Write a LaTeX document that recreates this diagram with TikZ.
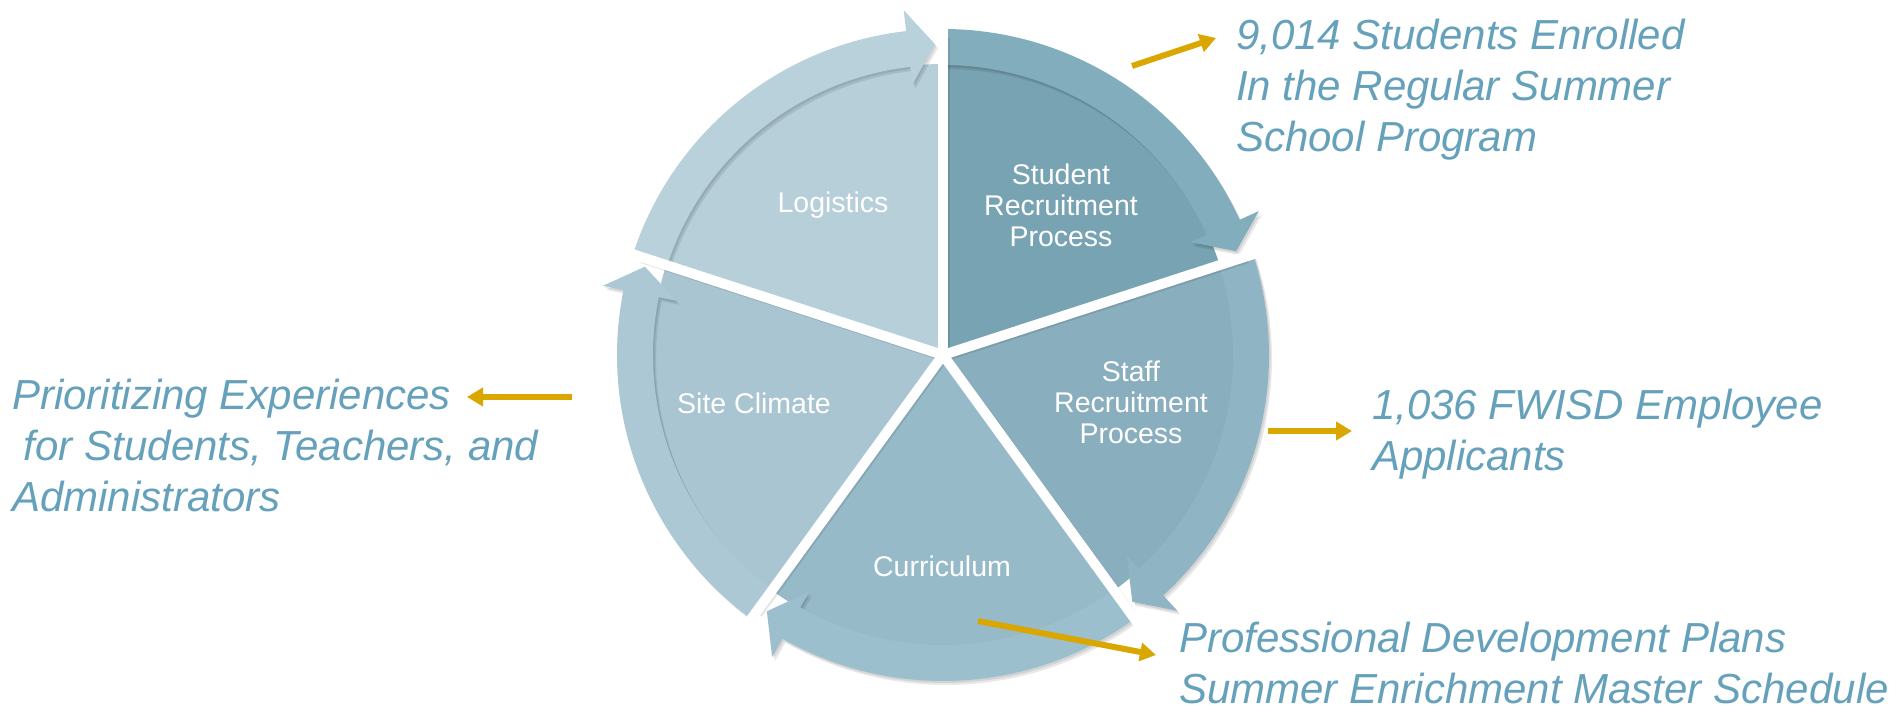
\documentclass[tikz,border=0pt]{standalone}
\usepackage{fontspec}
\setmainfont{Liberation Sans}
\usetikzlibrary{arrows.meta}
\definecolor{txtblue}{RGB}{101,161,186}
\definecolor{gold}{RGB}{218,166,0}
\definecolor{logI}{RGB}{182,207,217}
\definecolor{logB}{RGB}{184,209,219}
\definecolor{stuI}{RGB}{120,163,178}
\definecolor{stuB}{RGB}{129,173,189}
\definecolor{staI}{RGB}{137,174,189}
\definecolor{staB}{RGB}{143,181,196}
\definecolor{curI}{RGB}{151,186,201}
\definecolor{curB}{RGB}{156,191,206}
\definecolor{sitI}{RGB}{168,197,209}
\definecolor{sitB}{RGB}{171,200,212}
\tikzset{
  bigtext/.style={text=txtblue, font=\fontsize{42}{51}\selectfont\itshape, inner sep=0pt, anchor=base west},
  segtext/.style={text=white, font=\fontsize{28.5}{31}\selectfont, inner sep=0pt, anchor=base},
  goldarrow/.style={draw=gold, line width=6pt, -{Triangle[length=16pt,width=18pt]}},
  gapline/.style={draw=white, line width=10pt},
  gapshadow/.style={draw=black, opacity=0.10, line width=10pt},
  bandshadow/.style={fill=black, opacity=0.09},
}
% band (with arrow head) of the segment whose lower border lies at angle #1
\newcommand{\bandpath}[1]{%
  ({#1+72}:326pt) arc[start angle={#1+72}, end angle={#1+6.5}, radius=326pt]
    -- ({#1+6.5}:347pt) -- ({#1+1.5}:311pt) -- ({#1+6.5}:272pt) -- ({#1+6.5}:290pt)
    arc[start angle={#1+6.5}, end angle={#1+72}, radius=290pt] -- cycle}
\newcommand{\segsector}[2]{%
  \fill[#2] (0,0) -- (#1:291pt) arc[start angle=#1, delta angle=72, radius=291pt] -- cycle;}
\newcommand{\segband}[2]{%
  \fill[bandshadow] [shift={(1.5pt,-2pt)}] \bandpath{#1};
  \fill[bandshadow] [shift={(3pt,-4pt)}] \bandpath{#1};
  \fill[#2] \bandpath{#1};}
\begin{document}
\begin{tikzpicture}[x=1pt,y=1pt]
\useasboundingbox (0,0) rectangle (1899,710);
\fill[white] (0,0) rectangle (1899,710);
\coordinate (C) at (943,355);
\begin{scope}[shift={(C)}]
  \segsector{90}{logI}
  \segsector{18}{stuI}
  \segsector{-54}{staI}
  \segsector{-126}{curI}
  \segsector{162}{sitI}
  \segband{90}{logB}
  \segband{18}{stuB}
  \segband{-54}{staB}
  \segband{-126}{curB}
  \segband{162}{sitB}
  \foreach \a in {18,90,162,234,306} {
    \draw[gapshadow] (1.5pt,-1.5pt) -- ++(\a:318pt);
  }
  \foreach \a in {18,90,162,234,306} {
    \draw[gapline] (0,0) -- (\a:362pt);
  }
\end{scope}
% segment labels
\node[segtext] (logistics) at (833,497) {Logistics};
\node[segtext] (student) at (1061,525) {\begin{tabular}[t]{@{}c@{}}Student\\Recruitment\\Process\end{tabular}};
\node[segtext] (staff) at (1131,328) {\begin{tabular}[t]{@{}c@{}}Staff\\Recruitment\\Process\end{tabular}};
\node[segtext] (site) at (754,296) {Site Climate};
\node[segtext] (curriculum) at (942,133) {Curriculum};
% outcome texts
\node[bigtext] (enrolled) at (1236,660) {\begin{tabular}[t]{@{}l@{}}9,014 Students Enrolled\\In the Regular Summer\\School Program\end{tabular}};
\node[bigtext] (applicants) at (1372,290) {\begin{tabular}[t]{@{}l@{}}1,036 FWISD Employee\\Applicants\end{tabular}};
\node[bigtext] (prior) at (12,300) {\begin{tabular}[t]{@{}l@{}}Prioritizing Experiences\\\hspace*{0.28em}for Students, Teachers, and\\Administrators\end{tabular}};
\node[bigtext] (profdev) at (1179,58) {\begin{tabular}[t]{@{}l@{}}Professional Development Plans\\Summer Enrichment Master Schedule\end{tabular}};
% gold arrows
\coordinate (a1s) at (1132,644); \coordinate (a1e) at (1216,672);
\coordinate (a2s) at (1268,279); \coordinate (a2e) at (1352,279);
\coordinate (a3s) at (572,313);  \coordinate (a3e) at (467,313);
\coordinate (a4s) at (978,89);   \coordinate (a4e) at (1156,55);
\draw[goldarrow] (a1s) -- (a1e);
\draw[goldarrow] (a2s) -- (a2e);
\draw[goldarrow] (a3s) -- (a3e);
\draw[goldarrow] (a4s) -- (a4e);
\end{tikzpicture}
\end{document}
